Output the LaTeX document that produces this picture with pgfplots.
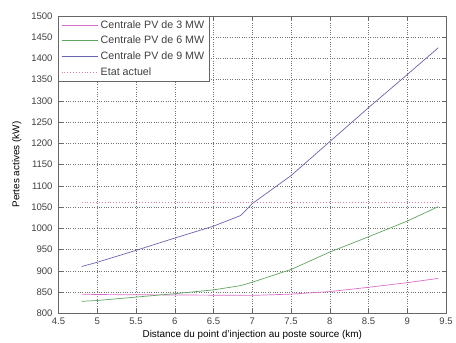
\documentclass[border=0pt]{standalone}
\usepackage{pgfplots}
\pgfplotsset{compat=1.18}
\usepackage{fontspec}
\setmainfont{Liberation Sans}
\definecolor{c3}{RGB}{215,110,200}
\definecolor{c6}{RGB}{95,165,95}
\definecolor{c9}{RGB}{105,100,175}
\definecolor{cet}{RGB}{225,125,165}
\begin{document}
\begin{tikzpicture}
\begin{axis}[
  name=ax,
  scale only axis,
  width=391pt, height=300pt,
  xmin=4.5, xmax=9.5, ymin=800, ymax=1500,
  xtick={4.5,5,...,9.5}, ytick={800,850,...,1500},
  xticklabels={4.5,5,5.5,6,6.5,7,7.5,8,8.5,9,9.5},
  grid=major,
  major grid style={black!55, dotted, line width=0.5pt},
  axis line style={black!60},
  tick style={black!60},
  tick align=inside,
  ticklabel style={font=\fontsize{9.6}{11}\selectfont, text=black!75},
  xticklabel style={yshift=-1.5pt},
  yticklabel style={xshift=-2.5pt},
  /pgf/number format/assume math mode=true,
  /pgf/number format/1000 sep={},
  xlabel={Distance du point d'injection au poste source (km)},
  ylabel={Pertes actives (kW)},
  label style={font=\fontsize{11}{13}\selectfont, text=black!75},
  every axis x label/.style={at={([yshift=-22pt]rel axis cs:0.5,0)}, anchor=center},
  every axis y label/.style={at={([xshift=-42pt]rel axis cs:0,0.5)}, rotate=90, anchor=center},
  legend cell align=left,
  legend style={font=\fontsize{10.8}{12}\selectfont, text=black!75, draw=black!60, inner sep=2.5pt, row sep=2.5pt, at={(0,1)}, anchor=north west},
  legend image code/.code={\draw[#1] (0pt,0pt) -- (37pt,0pt);},
]
\addplot[c3, line width=0.7pt] coordinates {
(4.8,845) (5,844) (5.5,843.5) (6,843) (6.5,842.5) (7,842) (7.5,845) (8,851) (8.5,861) (9,872) (9.4,882)};
\addlegendentry{Centrale PV de 3 MW}
\addplot[c6, line width=0.7pt] coordinates {
(4.8,828) (5,830) (5.5,838) (6,846) (6.5,855) (6.85,865) (7,873) (7.5,903) (8,944) (8.5,980) (9,1017) (9.4,1051)};
\addlegendentry{Centrale PV de 6 MW}
\addplot[c9, line width=0.7pt] coordinates {
(4.8,910) (5,920) (5.5,948) (6,977) (6.5,1005) (6.85,1030) (7,1058) (7.5,1124) (8,1204) (8.5,1284) (9,1362) (9.4,1425)};
\addlegendentry{Centrale PV de 9 MW}
\addplot[cet, dotted, line width=0.9pt] coordinates {(4.8,1060) (9.4,1060)};
\addlegendentry{Etat actuel}
\end{axis}
\path ([xshift=-59pt,yshift=-29pt]ax.south west) rectangle ([xshift=6pt,yshift=16pt]ax.north east);
\end{tikzpicture}
\end{document}
